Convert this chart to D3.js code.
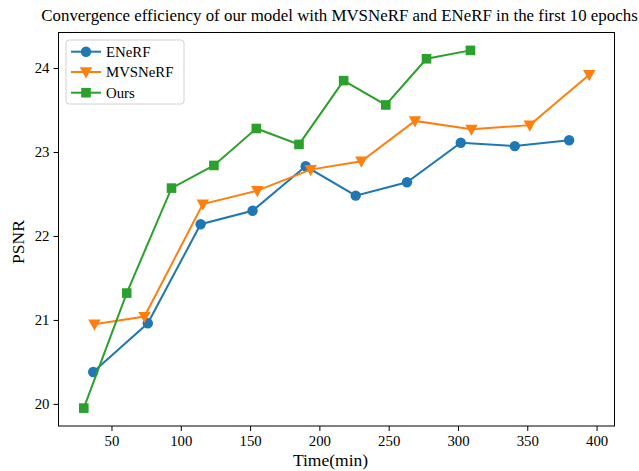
<!DOCTYPE html>
<html>
<head>
<meta charset="utf-8">
<script src="https://cdn.jsdelivr.net/npm/d3@7"></script>
<style>
  html, body { margin: 0; padding: 0; background: #fff; }
  svg { display: block; }
  text { font-family: "Liberation Serif", "Times New Roman", serif; fill: #000; }
</style>
</head>
<body>
<svg id="chart" width="639" height="471"></svg>
<script>
// ---- data ----
const enerfTime = [36.8, 76.2, 114.3, 151.8, 190.1, 226.2, 263.2, 302.0, 341.0, 380.2];
const enerfPSNR = [20.38, 20.96, 22.14, 22.30, 22.83, 22.48, 22.64, 23.11, 23.07, 23.14];
const mvsTime = [37.7, 73.8, 115.9, 155.2, 193.7, 230.3, 269.0, 309.7, 351.8, 394.7];
const mvsPSNR = [20.95, 21.04, 22.38, 22.54, 22.79, 22.89, 23.37, 23.27, 23.32, 23.92];
const oursTime = [30.0, 61.0, 93.3, 123.9, 154.5, 185.3, 217.5, 247.9, 277.3, 309.0];
const oursPSNR = [19.95, 21.32, 22.57, 22.84, 23.28, 23.09, 23.85, 23.56, 24.11, 24.21];
const xTicks = [50, 100, 150, 200, 250, 300, 350, 400];
const yTicks = [20, 21, 22, 23, 24];
const seriesNames = ["ENeRF", "MVSNeRF", "Ours"];
const titleText = "Convergence efficiency of our model with MVSNeRF and ENeRF in the first 10 epochs";
const xLabel = "Time(min)";
const yLabel = "PSNR";

const series = [
  { name: seriesNames[0], xs: enerfTime, ys: enerfPSNR, color: "#1f77b4", marker: "circle" },
  { name: seriesNames[1], xs: mvsTime, ys: mvsPSNR, color: "#ff7f0e", marker: "triangle" },
  { name: seriesNames[2], xs: oursTime, ys: oursPSNR, color: "#2ca02c", marker: "square" }
];

const svg = d3.select("#chart");
const L = 58.5, R = 614.5, T = 32.5, B = 426;

const allX = [...enerfTime, ...mvsTime, ...oursTime];
const allY = [...enerfPSNR, ...mvsPSNR, ...oursPSNR];
const [x0, x1] = d3.extent(allX), [y0, y1] = d3.extent(allY);
const xm = (x1 - x0) * 0.05, ym = (y1 - y0) * 0.05;
const x = d3.scaleLinear().domain([x0 - xm, x1 + xm]).range([L, R]);
const y = d3.scaleLinear().domain([y0 - ym, y1 + ym]).range([B, T]);

// title
svg.append("text").attr("x", (L + R) / 2 + 3).attr("y", 21)
  .attr("text-anchor", "middle").attr("font-size", 16.9).text(titleText);

// axes
const xAxis = d3.axisBottom(x).tickValues(xTicks).tickSize(5).tickPadding(4).tickFormat(d3.format("d"));
const yAxis = d3.axisLeft(y).tickValues(yTicks).tickSize(5).tickPadding(4).tickFormat(d3.format("d"));
const gx = svg.append("g").attr("transform", `translate(0,${B})`).call(xAxis);
const gy = svg.append("g").attr("transform", `translate(${L},0)`).call(yAxis);
[gx, gy].forEach(g => {
  g.select(".domain").remove();
  g.selectAll("line").attr("stroke", "#000").attr("stroke-width", 1);
  g.selectAll("text").attr("font-size", 14.8).attr("font-family", "Liberation Serif");
});

// frame
svg.append("rect").attr("x", L).attr("y", T).attr("width", R - L).attr("height", B - T)
  .attr("fill", "none").attr("stroke", "#000").attr("stroke-width", 1);

// axis labels
svg.append("text").attr("x", (L + R) / 2 - 6).attr("y", 466)
  .attr("text-anchor", "middle").attr("font-size", 17.5).text(xLabel);
svg.append("text").attr("transform", `translate(24,242) rotate(-90)`)
  .attr("text-anchor", "middle").attr("font-size", 17.5).text(yLabel);

// markers
function drawMarker(g, type, cx, cy, color) {
  if (type === "circle") {
    g.append("circle").attr("cx", cx).attr("cy", cy).attr("r", 5.2).attr("fill", color);
  } else if (type === "square") {
    g.append("rect").attr("x", cx - 4.8).attr("y", cy - 4.8).attr("width", 9.6).attr("height", 9.6).attr("fill", color);
  } else {
    const s = 6.2;
    g.append("path").attr("d", `M${cx - s},${cy - s * 0.75}L${cx + s},${cy - s * 0.75}L${cx},${cy + s * 1.05}Z`).attr("fill", color);
  }
}

const plot = svg.append("g");
const line = d3.line().x(d => x(d[0])).y(d => y(d[1]));
series.forEach(s => {
  const pts = s.xs.map((v, i) => [v, s.ys[i]]);
  plot.append("path").datum(pts).attr("d", line).attr("fill", "none")
    .attr("stroke", s.color).attr("stroke-width", 2);
  pts.forEach(p => drawMarker(plot, s.marker, x(p[0]), y(p[1]), s.color));
});

// legend
const lg = svg.append("g");
lg.append("rect").attr("x", 66).attr("y", 40).attr("width", 118).attr("height", 64)
  .attr("rx", 3).attr("fill", "#fff").attr("fill-opacity", 0.8).attr("stroke", "#d0d0d0").attr("stroke-width", 1);
const legY = [51.7, 72, 92.7];
series.forEach((s, i) => {
  const ly = legY[i];
  lg.append("line").attr("x1", 71).attr("x2", 101).attr("y1", ly).attr("y2", ly)
    .attr("stroke", s.color).attr("stroke-width", 2);
  drawMarker(lg, s.marker, 86, ly, s.color);
  lg.append("text").attr("x", 106).attr("y", ly + 5).attr("font-size", 14.8).text(s.name);
});
</script>
</body>
</html>
